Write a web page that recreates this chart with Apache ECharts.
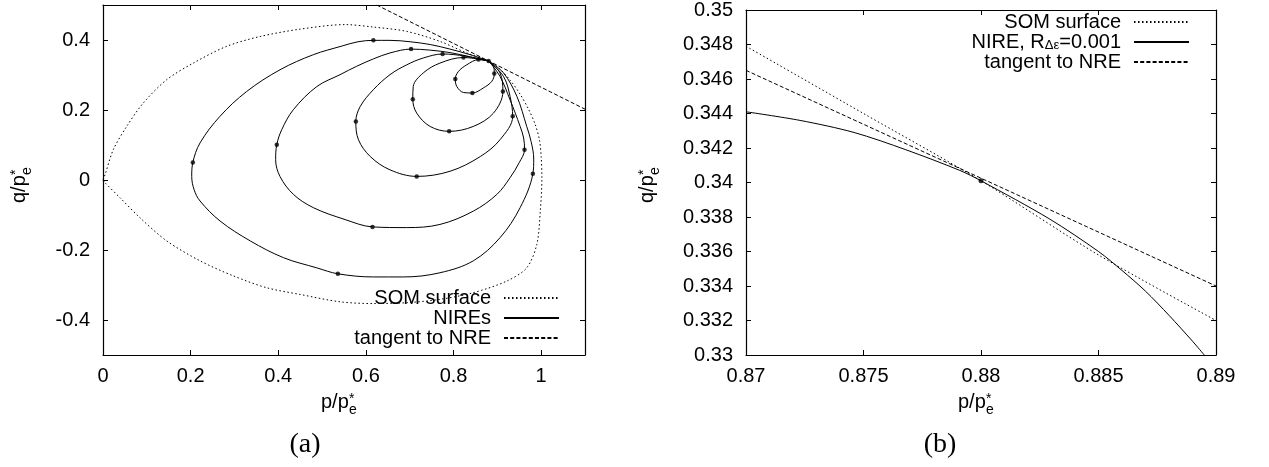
<!DOCTYPE html>
<html><head><meta charset="utf-8">
<script src="https://cdn.jsdelivr.net/npm/echarts@6/dist/echarts.min.js"></script>
<style>html,body{margin:0;padding:0;background:#fff}#c{width:1269px;height:467px}</style>
</head><body><div id="c"></div>
<script>
// ---------- tick labels ----------
const leftXTicks = [0, 0.2, 0.4, 0.6, 0.8, 1];
const leftYTicks = [-0.4, -0.2, 0, 0.2, 0.4];
const rightXTicks = [0.87, 0.875, 0.88, 0.885, 0.89];
const rightYTicks = [0.33, 0.332, 0.334, 0.336, 0.338, 0.34, 0.342, 0.344, 0.346, 0.348, 0.35];

// ---------- panel (a) ----------
const somLeft = [[0,0],[0.0046,0.015],[0.0235,0.0866],[0.054,0.153],[0.092,0.220],[0.1454,0.2866],[0.206,0.334],[0.2824,0.382],[0.3584,0.410],[0.450,0.431],[0.5525,0.444],[0.617,0.437],[0.693,0.4246],[0.769,0.396],[0.830,0.363],[0.880,0.340],[0.905,0.318],[0.930,0.284],[0.952,0.245],[0.970,0.205],[0.986,0.160],[0.996,0.115],[1.000,0.067],[1.0016,0.0057],[0.998,-0.0886],[0.990,-0.184],[0.967,-0.251],[0.9217,-0.2886],[0.845,-0.322],[0.769,-0.341],[0.693,-0.3506],[0.617,-0.353],[0.541,-0.348],[0.450,-0.327],[0.374,-0.308],[0.2975,-0.274],[0.2215,-0.231],[0.1454,-0.174],[0.0845,-0.108],[0.0388,-0.0506],[0.0046,-0.0077],[0,0]];
const nire1 = [[0.880,0.340],[0.838,0.358],[0.792,0.374],[0.747,0.387],[0.701,0.395],[0.655,0.399],[0.617,0.399],[0.582,0.395],[0.546,0.383],[0.480,0.358],[0.404,0.315],[0.328,0.253],[0.267,0.182],[0.2215,0.106],[0.205,0.050],[0.2025,0.010],[0.208,-0.028],[0.2215,-0.060],[0.267,-0.117],[0.336,-0.174],[0.412,-0.222],[0.488,-0.251],[0.536,-0.268],[0.617,-0.277],[0.686,-0.277],[0.769,-0.265],[0.845,-0.231],[0.906,-0.165],[0.952,-0.079],[0.981,0.018],[0.983,0.060],[0.977,0.110],[0.967,0.153],[0.9445,0.239],[0.914,0.306],[0.880,0.340]];
const nire2 = [[0.880,0.340],[0.838,0.352],[0.792,0.364],[0.747,0.371],[0.703,0.374],[0.655,0.363],[0.617,0.346],[0.579,0.325],[0.541,0.301],[0.488,0.267],[0.4345,0.201],[0.408,0.144],[0.3966,0.101],[0.394,0.058],[0.404,0.010],[0.4345,-0.041],[0.480,-0.079],[0.5525,-0.113],[0.615,-0.134],[0.693,-0.136],[0.769,-0.127],[0.845,-0.089],[0.899,-0.041],[0.929,0.0066],[0.950,0.050],[0.962,0.0866],[0.960,0.120],[0.952,0.153],[0.929,0.229],[0.906,0.296],[0.880,0.340]];
const nire3 = [[0.880,0.340],[0.8265,0.354],[0.775,0.360],[0.731,0.3486],[0.693,0.329],[0.655,0.301],[0.617,0.258],[0.587,0.210],[0.577,0.167],[0.583,0.115],[0.610,0.067],[0.655,0.029],[0.716,0.0103],[0.792,0.025],[0.861,0.067],[0.906,0.115],[0.935,0.182],[0.929,0.239],[0.914,0.296],[0.880,0.340]];
const nire4 = [[0.880,0.340],[0.8226,0.350],[0.769,0.334],[0.731,0.306],[0.708,0.267],[0.707,0.231],[0.716,0.191],[0.7466,0.153],[0.790,0.139],[0.845,0.153],[0.891,0.191],[0.9126,0.253],[0.906,0.306],[0.880,0.340]];
const nire5 = [[0.880,0.340],[0.857,0.344],[0.830,0.329],[0.811,0.310],[0.804,0.2886],[0.8075,0.267],[0.8226,0.250],[0.843,0.2486],[0.868,0.263],[0.8874,0.282],[0.893,0.304],[0.891,0.3246],[0.880,0.340]];
const nireDots = [[0.880,0.340],[0.617,0.399],[0.205,0.050],[0.536,-0.268],[0.981,0.018],[0.703,0.374],[0.3966,0.101],[0.615,-0.134],[0.962,0.0866],[0.775,0.360],[0.577,0.167],[0.716,0.010],[0.935,0.182],[0.8226,0.350],[0.707,0.231],[0.790,0.139],[0.9126,0.253],[0.857,0.344],[0.804,0.2886],[0.843,0.2486],[0.893,0.304]];
const tangentLeft = [[0.6246,0.5],[1.1,0.2024]];

// ---------- panel (b) ----------
const somRight = [[0.87,0.3479],[0.875,0.3440],[0.88,0.3401],[0.885,0.3358],[0.89,0.3320]];
const nireRight = [[0.87,0.3441],[0.8723,0.3436],[0.8746,0.3429],[0.8768,0.3419],[0.8791,0.3407],[0.88,0.3401],[0.8829,0.3379],[0.885,0.3360],[0.886,0.3349],[0.887,0.3337],[0.888,0.3323],[0.889,0.3308],[0.8895,0.33]];
const tangentRight = [[0.87,0.3465],[0.89,0.3340]];
const rightDot = [[0.88,0.3401]];

const FONT = 'Liberation Sans';
const DOTTED = [1.5, 2.5];
const DASHED = [4, 2.2];

function fmt(v) { return String(+v.toFixed(4)); }
function mainX(min, max, ticks) {
  return { type:'value', position:'bottom', min, max,
    axisLine:{show:true, onZero:false, lineStyle:{color:'#000', width:1.2}},
    axisTick:{show:true, inside:true, length:5, customValues:ticks, lineStyle:{color:'#000', width:1}},
    axisLabel:{show:true, customValues:ticks, margin:11, color:'#000', fontFamily:FONT, fontSize:20, formatter:fmt},
    splitLine:{show:false} };
}
function mirrorX(min, max, ticks) {
  return { type:'value', position:'top', min, max,
    axisLine:{show:true, onZero:false, lineStyle:{color:'#000', width:1.2}},
    axisTick:{show:true, inside:true, length:5, customValues:ticks, lineStyle:{color:'#000', width:1}},
    axisLabel:{show:false}, splitLine:{show:false} };
}
function mainY(min, max, ticks) {
  return { type:'value', position:'left', min, max,
    axisLine:{show:true, onZero:false, lineStyle:{color:'#000', width:1.2}},
    axisTick:{show:true, inside:true, length:5, customValues:ticks, lineStyle:{color:'#000', width:1}},
    axisLabel:{show:true, customValues:ticks, margin:13, color:'#000', fontFamily:FONT, fontSize:20, formatter:fmt},
    splitLine:{show:false} };
}
function mirrorY(min, max, ticks) {
  return { type:'value', position:'right', min, max,
    axisLine:{show:true, onZero:false, lineStyle:{color:'#000', width:1.2}},
    axisTick:{show:true, inside:true, length:5, customValues:ticks, lineStyle:{color:'#000', width:1}},
    axisLabel:{show:false}, splitLine:{show:false} };
}
function lineSeries(name, data, xi, yi, dash, smooth) {
  return { type:'line', name, data, xAxisIndex:xi, yAxisIndex:yi, symbol:'none', showSymbol:false,
    smooth: smooth, clip:true, silent:true,
    itemStyle:{color:'#000'},
    lineStyle:{color:'#000', width:1, type: dash || 'solid'} };
}

const loops = [nire1, nire2, nire3, nire4, nire5];
const series = [];
series.push(lineSeries('SOM surface', somLeft, 0, 0, DOTTED, 0.3));
loops.forEach(l => series.push(lineSeries('NIREs', l, 0, 0, null, 0.35)));
series.push(lineSeries('tangent to NRE', tangentLeft, 0, 0, DASHED, false));
series.push({ type:'scatter', name:'NIRE points', data:nireDots, xAxisIndex:0, yAxisIndex:0,
  symbol:'circle', symbolSize:4.5, itemStyle:{color:'#000'}, silent:true });
series.push(lineSeries('SOM surface', somRight, 2, 2, DOTTED, 0.3));
series.push(lineSeries('NIRE, RΔε=0.001', nireRight, 2, 2, null, 0.3));
series.push(lineSeries('tangent to NRE', tangentRight, 2, 2, DASHED, false));
series.push({ type:'scatter', name:'NIRE point', data:rightDot, xAxisIndex:2, yAxisIndex:2,
  symbol:'circle', symbolSize:5, itemStyle:{color:'#000'}, silent:true });

function txt(x, y, text, size) {
  return { type:'text', x, y, silent:true,
    style:{ text, fontFamily:FONT, fontSize:size, fill:'#000', align:'left', verticalAlign:'middle' } };
}
function axisTitle(x, y, first, rot) {
  return { type:'group', x, y, rotation: rot, silent:true, children:[
    txt(0, 0, first, 20), txt(28, -3, '*', 14), txt(28, 8.5, 'e', 14) ] };
}

const legendText = { fontFamily:FONT, fontSize:20, color:'#000', lineHeight:20, padding:[0,8,0,0],
  rich:{ sub:{ fontFamily:FONT, fontSize:13, lineHeight:13, verticalAlign:'bottom', padding:[7,0,0,0] } } };
const legendCommon = { orient:'vertical', align:'right', padding:0, itemGap:0, itemWidth:55, itemHeight:14,
  selectedMode:false, itemStyle:{opacity:0, borderWidth:0}, textStyle:legendText };

const option = {
  animation:false,
  backgroundColor:'#fff',
  grid:[ {left:103, top:5, width:482, height:350, containLabel:false},
         {left:746, top:5, width:470, height:350, containLabel:false} ],
  xAxis:[ Object.assign(mainX(0, 1.1, leftXTicks), {gridIndex:0}),
          Object.assign(mirrorX(0, 1.1, leftXTicks), {gridIndex:0}),
          Object.assign(mainX(0.87, 0.89, rightXTicks), {gridIndex:1}),
          Object.assign(mirrorX(0.87, 0.89, rightXTicks), {gridIndex:1}) ],
  yAxis:[ Object.assign(mainY(-0.5, 0.5, leftYTicks), {gridIndex:0}),
          Object.assign(mirrorY(-0.5, 0.5, leftYTicks), {gridIndex:0}),
          Object.assign(mainY(0.33, 0.35, rightYTicks), {gridIndex:1}),
          Object.assign(mirrorY(0.33, 0.35, rightYTicks), {gridIndex:1}) ],
  legend:[
    Object.assign({ data:['SOM surface','NIREs','tangent to NRE'], right:709, top:288 }, legendCommon),
    Object.assign({ data:['SOM surface','NIRE, RΔε=0.001','tangent to NRE'], right:79, top:12,
      formatter: n => n.replace('RΔε', 'R{sub|Δε}') }, legendCommon)
  ],
  graphic:[
    axisTitle(321, 402, 'p/p', 0),
    axisTitle(958, 402, 'p/p', 0),
    axisTitle(19, 203, 'q/p', Math.PI/2),
    axisTitle(647, 203, 'q/p', Math.PI/2),
    { type:'text', x:305, y:445, silent:true, style:{ text:'(a)', fontFamily:'Liberation Serif', fontSize:28, fill:'#000', align:'center', verticalAlign:'middle' } },
    { type:'text', x:940, y:445, silent:true, style:{ text:'(b)', fontFamily:'Liberation Serif', fontSize:28, fill:'#000', align:'center', verticalAlign:'middle' } }
  ],
  series
};
const chart = echarts.init(document.getElementById('c'), null, {renderer:'canvas'});
chart.setOption(option);
</script></body></html>
